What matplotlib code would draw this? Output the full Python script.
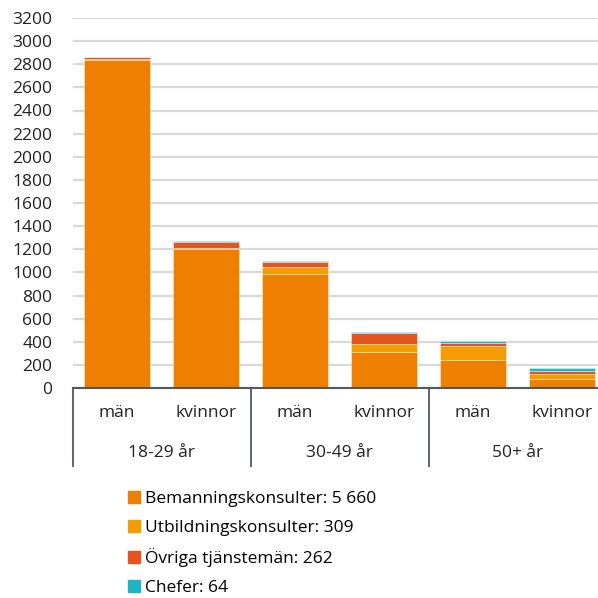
import matplotlib
matplotlib.use("Agg")
import matplotlib.pyplot as plt
from matplotlib.lines import Line2D
import numpy as np

plt.rcParams["font.family"] = ["Open Sans", "DejaVu Sans"]

# data
sub_labels = ["män", "kvinnor", "män", "kvinnor", "män", "kvinnor"]
group_labels = ["18-29 år", "30-49 år", "50+ år"]
bemanning = [2835, 1205, 985, 315, 245, 75]
utbildning = [8, 8, 65, 63, 115, 50]
ovriga = [20, 52, 40, 96, 29, 25]
chefer = [0, 4, 10, 9, 21, 20]

series = [
    ("Bemanningskonsulter: 5 660", bemanning, "#EE7F00"),
    ("Utbildningskonsulter: 309", utbildning, "#F59C00"),
    ("Övriga tjänstemän: 262", ovriga, "#E5531F"),
    ("Chefer: 64", chefer, "#1DB6C2"),
]

FS = 12.5
W, H = 598, 598
fig = plt.figure(figsize=(W / 100, H / 100), dpi=100)
left, right, top, bottom = 72.5, 606.5, 18, 388
ax = fig.add_axes([left / W, 1 - bottom / H, (right - left) / W, (bottom - top) / H])

x = np.arange(len(sub_labels))
base = np.zeros(len(x))
for name, vals, col in series:
    ax.bar(x, vals, width=0.74, bottom=base, color=col, edgecolor=(1, 1, 1, 0.45),
           linewidth=0.6, zorder=3)
    base += np.array(vals)

ax.set_xlim(-0.5, len(x) - 0.5)
ax.set_ylim(0, 3200)
ax.set_yticks(np.arange(0, 3201, 200))
ax.tick_params(axis="y", length=0, labelsize=FS, pad=14.5, colors="#222222")
ax.set_xticks([])
ax.yaxis.grid(True, color="#D9D9D9", linewidth=1.6, zorder=0)
for s in ("left", "right", "top"):
    ax.spines[s].set_visible(False)
ax.spines["bottom"].set_color("#4F5B5B")
ax.spines["bottom"].set_linewidth(1.5)
ax.spines["bottom"].set_zorder(4)

# two-level category axis
tr = ax.get_xaxis_transform()
span = (bottom - top)
for b in [-0.5, 1.5, 3.5, 5.5]:
    ax.plot([b, b], [0, -78 / span], color="#4F5B5B", lw=1.3, transform=tr, clip_on=False)
for xi, lab in zip(x, sub_labels):
    ax.text(xi, -25 / span, lab, transform=tr, ha="center", va="center", fontsize=FS,
            color="#222222")
for gi, lab in enumerate(group_labels):
    ax.text(2 * gi + 0.5, -65 / span, lab, transform=tr, ha="center", va="center",
            fontsize=FS, color="#222222")

handles = [Line2D([], [], marker="s", linestyle="none", markersize=9, color=c)
           for _, _, c in series]
fig.legend(handles, [s[0] for s in series], loc="upper left",
           bbox_to_anchor=(122 / W, 1 - 484 / H), frameon=False, fontsize=FS,
           handlelength=0.6, handletextpad=0.35, labelspacing=0.72, borderaxespad=0)

fig.savefig("out.png", dpi=100)
